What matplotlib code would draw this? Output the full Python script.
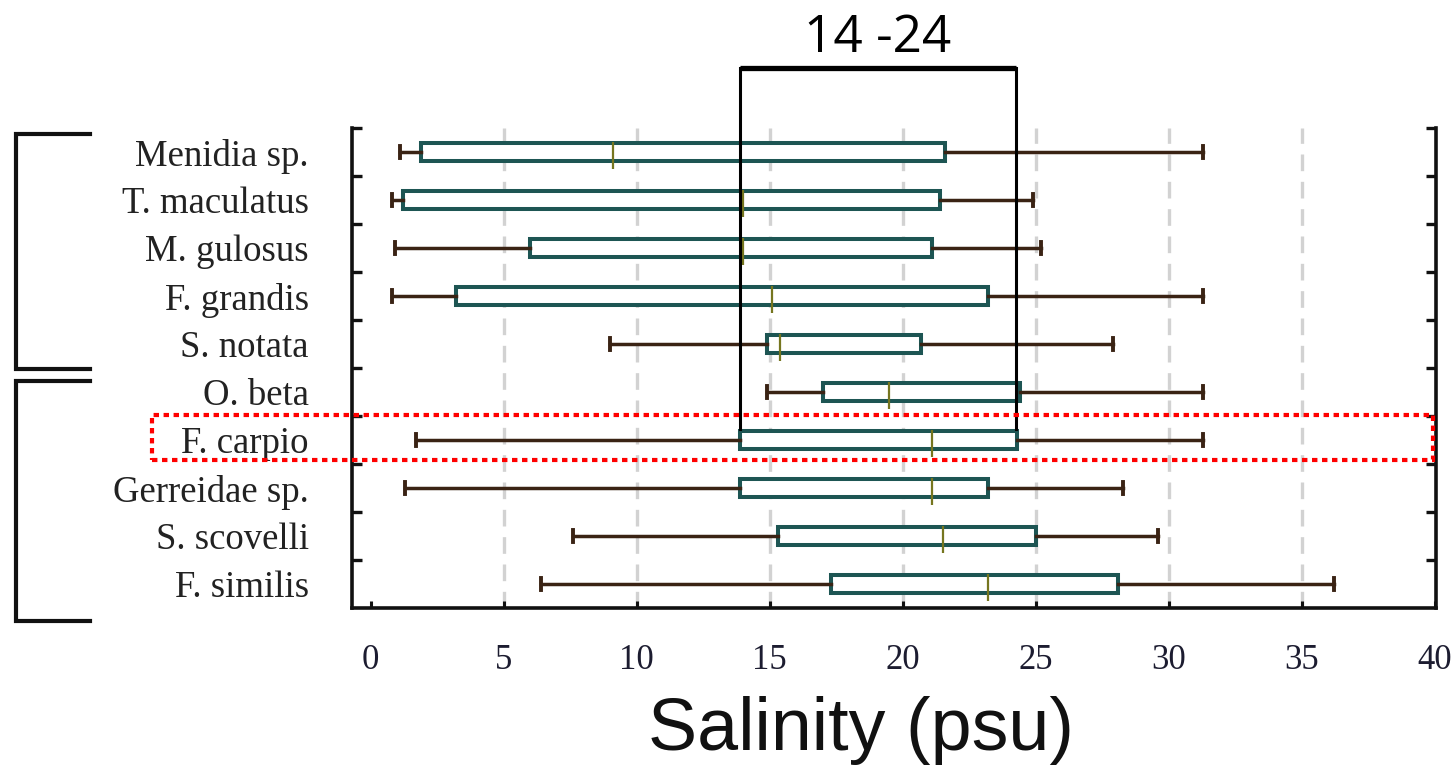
import numpy as np
import matplotlib
matplotlib.use("Agg")
import matplotlib.pyplot as plt
from matplotlib.lines import Line2D
from matplotlib.patches import Rectangle

# ---------------- data ----------------
species = ["Menidia sp.", "T. maculatus", "M. gulosus", "F. grandis", "S. notata",
           "O. beta", "F. carpio", "Gerreidae sp.", "S. scovelli", "F. similis"]
whis_lo = [1.1, 0.8, 0.9, 0.8, 9.0, 14.9, 1.7, 1.3, 7.6, 6.4]
q1      = [1.9, 1.2, 6.0, 3.2, 14.9, 17.0, 13.9, 13.9, 15.3, 17.3]
median  = [9.1, 14.0, 14.0, 15.1, 15.4, 19.5, 21.1, 21.1, 21.5, 23.2]
q3      = [21.6, 21.4, 21.1, 23.2, 20.7, 24.4, 24.3, 23.2, 25.0, 28.1]
whis_hi = [31.3, 24.9, 25.2, 31.3, 27.9, 31.3, 31.3, 28.3, 29.6, 36.2]
x_ticks = [0, 5, 10, 15, 20, 25, 30, 35, 40]
grid_x = [5, 10, 15, 20, 25, 30, 35]
highlight_range = [13.9, 24.25]
highlight_label = "14 -24"
x_label = "Salinity (psu)"

# ---------------- figure ----------------
W, H = 1456, 781
fig = plt.figure(figsize=(W / 100, H / 100), dpi=100)
ax = fig.add_axes([352 / W, 1 - 608 / H, (1436 - 352) / W, (608 - 128) / H])

box_col = "#1d5553"
whisk_col = "#3a2314"
med_col = "#76761f"

pos = np.arange(len(species))
stats = [dict(med=m, q1=a, q3=b, whislo=lo, whishi=hi, fliers=[])
         for lo, a, m, b, hi in zip(whis_lo, q1, median, q3, whis_hi)]
ax.bxp(stats, positions=pos, orientation="horizontal", widths=0.37,
       patch_artist=True, showfliers=False, capwidths=0.26,
       boxprops=dict(facecolor="white", edgecolor=box_col, linewidth=2.9),
       whiskerprops=dict(color=whisk_col, linewidth=2.5),
       capprops=dict(color=whisk_col, linewidth=2.8),
       medianprops=dict(linewidth=0, alpha=0), zorder=3)
ax.vlines(median, pos - 0.21, pos + 0.36, color=med_col, linewidth=1.6, zorder=4)

# grid
for gx in grid_x:
    ax.axvline(gx, color="#d2d2d2", linewidth=2.4, linestyle=(0, (5, 3.2)), zorder=1)

ax.set_xlim(-0.7, 40.05)
ax.set_ylim(len(species) - 0.5, -0.5)

serif = "Liberation Serif"
ax.set_xticks(x_ticks)
ax.set_xticklabels([str(t) for t in x_ticks], fontfamily=serif, fontsize=25, color="#1c1c30")
ax.set_yticks(pos)
ax.set_yticklabels(species, fontfamily=serif, fontsize=26.5, color="#222222")
ax.set_yticks(np.arange(-0.5, len(species) - 1, 1.0), minor=True)
ax.tick_params(axis="y", which="major", length=0, pad=31)
ax.tick_params(axis="y", which="minor", direction="in", left=True, right=True,
               length=7, width=2.4, color="#111111")
ax.tick_params(axis="x", which="major", direction="in", length=5, width=2.2,
               pad=26, color="#111111")

for s in ["left", "right", "bottom"]:
    ax.spines[s].set_linewidth(2.6)
    ax.spines[s].set_color("#111111")
ax.spines["top"].set_visible(False)

# x label
fig.text(861 / W, 1 - 750 / H, x_label, fontfamily="Liberation Sans", fontsize=53,
         ha="center", va="baseline", color="#111111")

# highlight bracket (14-24)
ytop = -1.76
ybot = 5.77
ax.plot([highlight_range[0], highlight_range[0], highlight_range[1], highlight_range[1]],
        [ybot, ytop, ytop, ybot], color="black", linewidth=2.2, clip_on=False,
        solid_joinstyle="miter", zorder=6)
ax.plot(highlight_range, [ytop, ytop], color="black", linewidth=3.8, clip_on=False,
        solid_capstyle="butt", zorder=6)
fig.text(878 / W, 1 - 52 / H, highlight_label, fontfamily="Open Sans", fontsize=37,
         ha="center", va="baseline", color="black")

# red dotted rectangle around F. carpio
rect = Rectangle((152 / W, 1 - 460 / H), (1433 - 152) / W, (460 - 415) / H,
                 transform=fig.transFigure, fill=False, edgecolor="#ff0000",
                 linewidth=3.0, linestyle=(0, (1.3, 1.1)), zorder=10)
fig.patches.append(rect)

# left group brackets
def bracket(ytop_px, ybot_px):
    xs = [90 / W, 16 / W, 16 / W, 90 / W]
    ys = [1 - ytop_px / H, 1 - ytop_px / H, 1 - ybot_px / H, 1 - ybot_px / H]
    fig.add_artist(Line2D(xs, ys, transform=fig.transFigure, color="#111111",
                          linewidth=3.0, solid_joinstyle="miter"))

bracket(134, 369)
bracket(381, 621)

fig.savefig("out.png", dpi=100)
